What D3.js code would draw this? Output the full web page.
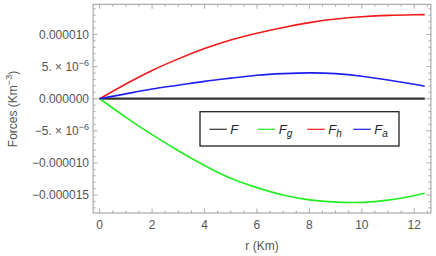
<!DOCTYPE html>
<html>
<head>
<meta charset="utf-8">
<script src="https://cdn.jsdelivr.net/npm/d3@7"></script>
<style>
  body { margin: 0; background: #fff; }
  svg text { font-family: "Liberation Sans", Arial, sans-serif; fill: #555; }
</style>
</head>
<body>
<div id="chart"></div>
<script>
'use strict';

// Radius samples (km) and force series (units of 1e-6 km^-3)
const radius = [0, 1, 2, 3, 4, 5, 6, 7, 8, 9, 10, 11, 12, 12.4];
const forceF  = [0, 0, 0, 0, 0, 0, 0, 0, 0, 0, 0, 0, 0, 0];
const forceFg = [0, -2.9, -5.6, -8.1, -10.4, -12.4, -13.85, -15.0, -15.75, -16.1, -16.15, -15.8, -15.1, -14.74];
const forceFh = [0, 2.3, 4.4, 6.2, 7.8, 9.15, 10.2, 11.1, 11.85, 12.4, 12.75, 12.97, 13.07, 13.09];
const forceFa = [0, 0.75, 1.5, 2.1, 2.7, 3.2, 3.65, 3.9, 4.02, 3.9, 3.5, 2.92, 2.25, 1.95];

const xTicks = [0, 2, 4, 6, 8, 10, 12];
const yTicks = [10, 5, 0, -5, -10, -15];
const yTickLabels = [
    { text: "0.000010" },
    { text: "5. \u00d7 10", sup: "\u22126" },
    { text: "0.000000" },
    { text: "\u22125. \u00d7 10", sup: "\u22126" },
    { text: "\u22120.000010" },
    { text: "\u22120.000015" }
];

const series = [
    { key: "F",  sub: null, color: "#333333", values: forceF,  width: 2.2 },
    { key: "F",  sub: "g",  color: "#22ee22", values: forceFg, width: 1.6 },
    { key: "F",  sub: "h",  color: "#f0191b", values: forceFh, width: 1.6 },
    { key: "F",  sub: "a",  color: "#1f1ff0", values: forceFa, width: 1.6 }
];

const width = 436, height = 256;
const frame = { left: 93.1, right: 430.9, top: 4.3, bottom: 213 };

const svg = d3.select("#chart").append("svg")
    .attr("width", width)
    .attr("height", height);

const x = d3.scaleLinear().domain([-0.25, 12.635]).range([frame.left, frame.right]);
const y = d3.scaleLinear().domain([-17.8, 14.7]).range([frame.bottom, frame.top]);

// Ticks (inward, on all four sides)
const tickColor = "#999";
const ticksLayer = svg.append("g");
const xMinor = d3.range(0, 12.6, 0.5);
const yMinor = d3.range(-17, 15, 1);

xMinor.forEach(v => {
    const major = Math.abs(v % 2) < 1e-9;
    const len = major ? 4.5 : 2.5;
    ticksLayer.append("line").attr("x1", x(v)).attr("x2", x(v))
        .attr("y1", frame.bottom).attr("y2", frame.bottom - len)
        .attr("stroke", tickColor).attr("stroke-width", 0.8);
    ticksLayer.append("line").attr("x1", x(v)).attr("x2", x(v))
        .attr("y1", frame.top).attr("y2", frame.top + len)
        .attr("stroke", tickColor).attr("stroke-width", 0.8);
});
yMinor.forEach(v => {
    const major = Math.abs(v % 5) < 1e-9;
    const len = major ? 4.5 : 2.5;
    ticksLayer.append("line").attr("x1", frame.left).attr("x2", frame.left + len)
        .attr("y1", y(v)).attr("y2", y(v))
        .attr("stroke", tickColor).attr("stroke-width", 0.8);
    ticksLayer.append("line").attr("x1", frame.right).attr("x2", frame.right - len)
        .attr("y1", y(v)).attr("y2", y(v))
        .attr("stroke", tickColor).attr("stroke-width", 0.8);
});

// Zero gridline
svg.append("line")
    .attr("x1", frame.left).attr("x2", frame.right)
    .attr("y1", y(0)).attr("y2", y(0))
    .attr("stroke", "#bbb").attr("stroke-width", 0.8);

// Curves
const line = d3.line()
    .x((d, i) => x(radius[i]))
    .y(d => y(d))
    .curve(d3.curveNatural);

svg.append("g").selectAll("path")
    .data(series)
    .join("path")
    .attr("d", d => line(d.values))
    .attr("fill", "none")
    .attr("stroke", d => d.color)
    .attr("stroke-width", d => d.width);

// Frame
svg.append("rect")
    .attr("x", frame.left).attr("y", frame.top)
    .attr("width", frame.right - frame.left)
    .attr("height", frame.bottom - frame.top)
    .attr("fill", "none")
    .attr("stroke", "#999").attr("stroke-width", 1);

// Tick labels
svg.append("g").selectAll("text")
    .data(xTicks)
    .join("text")
    .attr("x", d => x(d))
    .attr("y", 229)
    .attr("text-anchor", "middle")
    .attr("font-size", 12)
    .text(d => d);

const yLab = svg.append("g").selectAll("text")
    .data(yTicks.map((v, i) => ({ value: v, label: yTickLabels[i] })))
    .join("text")
    .attr("x", 89)
    .attr("y", d => y(d.value) + 4.2)
    .attr("text-anchor", "end")
    .attr("font-size", 12);

yLab.append("tspan").text(d => d.label.text);
yLab.filter(d => d.label.sup)
    .append("tspan")
    .attr("dy", -5)
    .attr("font-size", 9)
    .text(d => d.label.sup);

// Axis titles
svg.append("text")
    .attr("x", 262).attr("y", 250)
    .attr("text-anchor", "middle")
    .attr("font-size", 12)
    .text("r (Km)");

const yTitle = svg.append("text")
    .attr("transform", "translate(17,109) rotate(-90)")
    .attr("text-anchor", "middle")
    .attr("font-size", 12);
yTitle.append("tspan").text("Forces (Km");
yTitle.append("tspan").attr("dy", -5).attr("font-size", 9).text("\u22123");
yTitle.append("tspan").attr("dy", 5).text(")");

// Legend
const legend = svg.append("g");
legend.append("rect")
    .attr("x", 200).attr("y", 111.7)
    .attr("width", 199).attr("height", 34.3)
    .attr("fill", "#fff")
    .attr("stroke", "#222").attr("stroke-width", 1.3);

const legendX = [209.3, 257.7, 307.3, 353.3];
const legendY = 129.3;
series.forEach((s, i) => {
    legend.append("line")
        .attr("x1", legendX[i]).attr("x2", legendX[i] + 17.5)
        .attr("y1", legendY).attr("y2", legendY)
        .attr("stroke", s.color).attr("stroke-width", 1.2);
    const t = legend.append("text")
        .attr("x", legendX[i] + 21)
        .attr("y", legendY + 4.5)
        .attr("font-size", 13)
        .attr("font-style", "italic")
        .style("fill", "#222");
    t.append("tspan").text(s.key);
    if (s.sub) {
        t.append("tspan").attr("dy", 3.5).attr("font-size", 10).text(s.sub);
    }
});
</script>
</body>
</html>
